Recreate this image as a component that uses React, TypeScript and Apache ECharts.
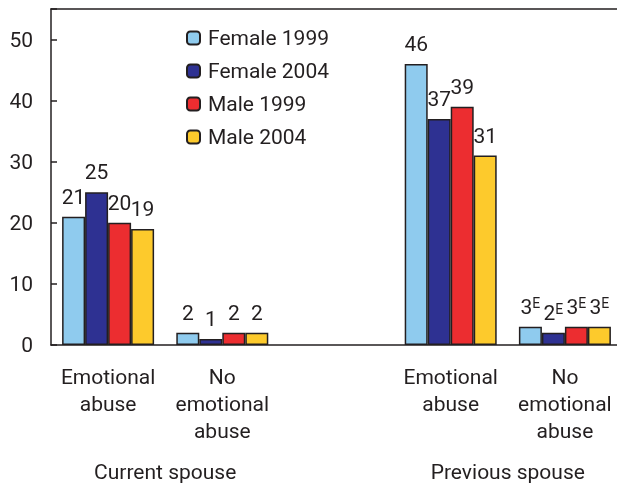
import React, { useEffect, useRef } from 'react';
import * as echarts from 'echarts';

const categories = ['Emotional\nabuse', 'No\nemotional\nabuse', '', 'Emotional\nabuse', 'No\nemotional\nabuse'];
const groupLabels: Record<number, string> = { 1: 'Current spouse', 4: 'Previous spouse' };
const seriesNames = ['Female 1999', 'Female 2004', 'Male 1999', 'Male 2004'];
const female1999 = [21, 2, null, 46, 3];
const female2004 = [25, 1, null, 37, 2];
const male1999 = [20, 2, null, 39, 3];
const male2004 = [19, 2, null, 31, 3];
// "E" = use with caution (superscript flag)
const flagged = [false, false, false, false, true];
const yTicks = [0, 10, 20, 30, 40, 50];

const colors = ['#8fcbee', '#2e3192', '#ec2d30', '#fdca2c'];
const FONT = 'Roboto, "Liberation Sans", sans-serif';
const FS = 21;
const TXT = '#231f20';

export default function App() {
  const ref = useRef<HTMLDivElement>(null);
  useEffect(() => {
    const chart = echarts.init(ref.current!, null, { renderer: 'svg' });
    const data = [female1999, female2004, male1999, male2004];
    chart.setOption({
      animation: false,
      textStyle: { fontFamily: FONT },
      grid: { left: 51, right: 4, top: 9, bottom: 139, containLabel: false },
      legend: {
        orient: 'vertical',
        left: 186,
        top: 27,
        padding: 0,
        itemWidth: 13,
        itemHeight: 13,
        itemGap: 11,
        textStyle: { fontFamily: FONT, fontSize: FS, color: TXT, lineHeight: 22, padding: [0, 0, 0, 3] },
        data: seriesNames,
      },
      xAxis: [
        {
          type: 'category',
          data: categories,
          position: 'bottom',
          axisLine: { show: true, lineStyle: { color: TXT, width: 1.5 } },
          axisTick: { show: false },
          axisLabel: { fontFamily: FONT, fontSize: FS, color: TXT, lineHeight: 27, margin: 18, interval: 0 },
        },
        {
          type: 'category',
          data: categories,
          position: 'top',
          axisLine: { show: true, lineStyle: { color: TXT, width: 1.5 } },
          axisTick: { show: false },
          axisLabel: { show: false },
        },
        {
          type: 'value',
          position: 'bottom',
          min: 0,
          max: 5,
          interval: 1,
          axisLine: { show: false },
          axisTick: { show: false },
          splitLine: { show: false },
          axisLabel: {
            fontFamily: FONT,
            fontSize: FS,
            color: TXT,
            lineHeight: 22,
            margin: 116,
            showMinLabel: true,
            showMaxLabel: true,
            formatter: (v: number) => groupLabels[v] || '',
          },
        },
      ],
      yAxis: {
        type: 'value',
        min: 0,
        max: 55,
        interval: 10,
        axisLine: { show: true, lineStyle: { color: TXT, width: 1.5 } },
        axisTick: { show: true, inside: true, length: 6, lineStyle: { color: TXT, width: 1.5 } },
        splitLine: { show: false },
        axisLabel: {
          fontFamily: FONT,
          fontSize: FS,
          color: TXT,
          margin: 18,
          formatter: (v: number) => (yTicks.includes(v) ? String(v) : ''),
        },
      },
      series: data.map((d, i) => ({
        name: seriesNames[i],
        type: 'bar',
        xAxisIndex: 0,
        data: d,
        barWidth: 23,
        barGap: '0%',
        itemStyle: { color: colors[i], borderColor: TXT, borderWidth: 1.5 },
        label: {
          show: true,
          position: 'top',
          distance: 9,
          fontFamily: FONT,
          fontSize: FS,
          lineHeight: 22,
          color: TXT,
          formatter: (p: any) => (flagged[p.dataIndex] ? `${p.value}{e|E}` : `${p.value}`),
          rich: {
            e: { fontFamily: FONT, fontSize: 14, lineHeight: 14, color: TXT, verticalAlign: 'top' },
          },
        },
      })),
    });
    return () => chart.dispose();
  }, []);
  return <div ref={ref} style={{ position: 'fixed', left: 0, top: 0, width: 626, height: 484 }} />;
}
